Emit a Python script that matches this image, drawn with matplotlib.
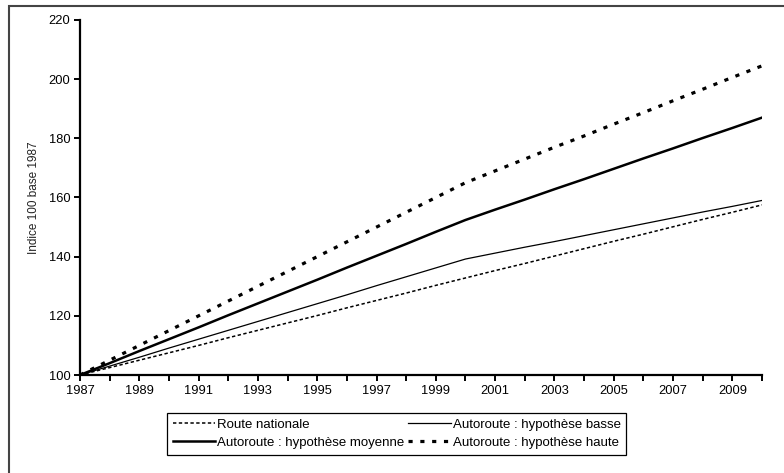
import matplotlib
matplotlib.use("Agg")
import matplotlib.pyplot as plt
from matplotlib.patches import Rectangle

plt.rcParams['font.family'] = ['Liberation Sans', 'DejaVu Sans']

years = list(range(1987, 2011))
route_nationale = [100, 102.5, 105, 107.5, 110, 112.6, 115.1, 117.6, 120.1, 122.7, 125.2, 127.7,
                   130.3, 132.8, 135.3, 137.7, 140.2, 142.7, 145.2, 147.6, 150.1, 152.6, 155.0, 157.5]
auto_basse = [100, 103, 106, 109.1, 112.1, 115.1, 118.1, 121.1, 124.1, 127.1, 130.2, 133.2,
              136.2, 139.2, 141.2, 143.2, 145.1, 147.1, 149.1, 151.1, 153.1, 155.1, 157.0, 159.0]
auto_moyenne = [100, 104, 108.1, 112.1, 116.1, 120.2, 124.2, 128.2, 132.2, 136.3, 140.3, 144.3,
                148.4, 152.4, 155.9, 159.3, 162.8, 166.2, 169.7, 173.2, 176.6, 180.1, 183.5, 187.0]
auto_haute = [100, 105, 110, 115, 120, 125, 130, 135, 140, 145, 150, 155,
              160, 165, 169, 173, 177, 180.8, 184.8, 188.7, 192.7, 196.6, 200.6, 204.5]

labels = ["Route nationale", "Autoroute : hypothèse basse",
          "Autoroute : hypothèse moyenne", "Autoroute : hypothèse haute"]
x_tick_labels = [str(y) if (y - 1987) % 2 == 0 and y < 2010 else "" for y in years]
y_ticks = [100, 120, 140, 160, 180, 200, 220]

fig = plt.figure(figsize=(7.84, 4.73), dpi=100)
ax = fig.add_axes([80/784, 1-375/473, (762-80)/784, (375-20)/473])

l1, = ax.plot(years, route_nationale, color='black', lw=1.1, dashes=(2.2, 1.6))
l2, = ax.plot(years, auto_basse, color='black', lw=0.9)
l3, = ax.plot(years, auto_moyenne, color='black', lw=1.8)
l4, = ax.plot(years, auto_haute, color='black', lw=2.3, dashes=(1.3, 2.4))

ax.set_xlim(1987, 2010)
ax.set_ylim(100, 220)
ax.set_xticks(years)
ax.set_xticklabels(x_tick_labels)
ax.set_yticks(y_ticks)
ax.spines['top'].set_visible(False)
ax.spines['right'].set_visible(False)
for s in ('left', 'bottom'):
    ax.spines[s].set_linewidth(1.6)
ax.tick_params(axis='both', direction='out', length=4, width=1.4, labelsize=9.3, pad=3)
ax.set_ylabel("Indice 100 base 1987", fontsize=8.5, color='#222222', labelpad=6)

# matplotlib fills legend columns first: order so rows read RN | basse, moyenne | haute
leg = fig.legend([l1, l3, l2, l4], [labels[0], labels[2], labels[1], labels[3]],
                 ncol=2, loc='lower left', bbox_to_anchor=(167/784, 1-455/473),
                 fontsize=9.5, frameon=True, fancybox=False, edgecolor='black',
                 framealpha=1, handlelength=3.2, handletextpad=0.15, labelspacing=0.45,
                 borderpad=0.45, borderaxespad=0, columnspacing=0.3)
leg.get_frame().set_linewidth(0.9)

fig.patches.append(Rectangle((9/784, -0.1), 1.2, 1.1 - 6/473, transform=fig.transFigure,
                             fill=False, edgecolor='#444444', lw=1.5, figure=fig))

fig.savefig("out.png", dpi=100)
